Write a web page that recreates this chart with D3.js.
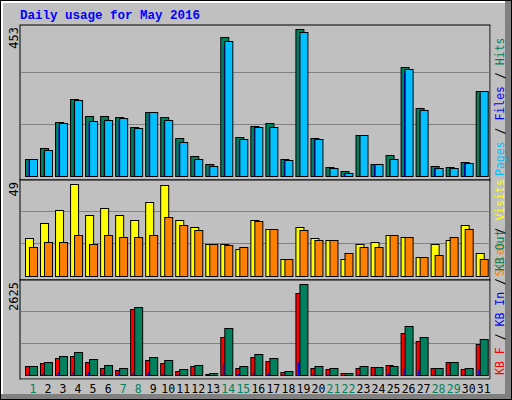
<!DOCTYPE html>
<html><head><meta charset="utf-8">
<script src="https://cdn.jsdelivr.net/npm/d3@7"></script>
<style>body{margin:0;background:#fff}</style>
</head><body><div id="chart"></div>
<script>
const days = d3.range(1, 32);
const weekend = [1, 7, 8, 14, 15, 21, 22, 28, 29];
const hits  = [53,87,167,236,186,186,183,152,198,183,118,63,38,428,121,155,164,53,453,118,29,14,127,38,66,336,210,32,29,44,262];
const pages = [53,81,164,233,170,173,179,149,198,173,106,53,32,416,115,152,152,50,444,115,26,10,127,38,53,330,204,26,26,41,262];
const files = [50,78,158,226,165,168,174,145,192,168,102,50,30,405,111,147,147,48,432,111,24,9,123,36,51,321,198,24,24,39,255];
const visits = [20,28,35,49,32.5,36,32.5,30,39.4,48.5,30,26,17,17,14.4,30,25,9,26,20,19,9,17,18,22,21,10,17,19,27,12];
const sites  = [15.4,18,18,22,17,22,21,21,22,31.4,27,24.5,17,16.5,15.4,29.3,25,9,24.5,19,19,12.2,15.4,15.4,22,21,10,11,21,25,9];
const kbF   = [268,355,498,556,383,211,153,1907,441,355,125,268,38,1102,211,527,412,96,2367,211,182,67,211,240,297,1217,987,211,383,182,901];
const kbIn  = [40,60,90,100,80,60,50,90,80,70,30,40,10,326,50,90,70,20,383,50,30,10,40,30,50,211,153,30,40,30,182];
const kbOut = [268,383,556,671,470,297,211,1964,527,441,182,297,67,1361,268,613,498,125,2625,268,211,67,268,240,268,1419,1102,211,383,211,1044];

const svg = d3.select('#chart').append('svg').attr('width', 512).attr('height', 400);
const mono = 'DejaVu Sans Mono, Liberation Mono, monospace';

// frame
svg.append('rect').attr('width', 512).attr('height', 400).attr('fill', '#000');
svg.append('rect').attr('x', 1).attr('y', 1).attr('width', 510).attr('height', 398).attr('fill', '#808080');
svg.append('rect').attr('x', 1).attr('y', 1).attr('width', 504).attr('height', 393).attr('fill', '#fff');
svg.append('rect').attr('x', 3).attr('y', 3).attr('width', 502).attr('height', 391).attr('fill', '#c0c0c0');

svg.append('text').attr('x', 20).attr('y', 19).text('Daily usage for May 2016')
	.attr('font-family', 'Liberation Mono, monospace').attr('font-weight', 'bold')
	.attr('font-size', 12.5).attr('fill', '#0000ff');

const x = d3.scaleLinear().domain([1, 31]).range([25, 475.7]);

const addPanel = (top, bottom, max, label, series, legend) => {
	const base = bottom - 4;
	const y = d3.scaleLinear().domain([0, max]).range([base, base - (base - top - 4)]);
	svg.append('rect').attr('x', 21).attr('y', top + 1).attr('width', 470).attr('height', bottom - top)
		.attr('fill', '#fff');
	svg.append('rect').attr('x', 20).attr('y', top).attr('width', 470).attr('height', bottom - top)
		.attr('fill', '#c0c0c0').attr('stroke', '#000').attr('stroke-width', 1);
	[1 / 3, 2 / 3].forEach(f => {
		const gy = Math.round(base - (base - top - 4) * f * 1.06) + 0.5;
		svg.append('line').attr('x1', 21).attr('x2', 490).attr('y1', gy).attr('y2', gy)
			.attr('stroke', '#808080');
	});
	svg.append('text').attr('transform', `translate(18,${top + 2}) rotate(-90)`)
		.attr('text-anchor', 'end').attr('font-family', mono).attr('font-size', 12).text(label);
	series.forEach(s => {
		svg.append('g').selectAll('rect').data(s.data).join('rect')
			.attr('x', (d, i) => x(days[i]) + s.dx + 0.5)
			.attr('y', d => Math.round(y(d)) + 0.5)
			.attr('width', s.w)
			.attr('height', d => Math.max(0, base - Math.round(y(d))))
			.attr('fill', s.color)
			.attr('stroke', s.stroke ? '#000' : 'none');
	});
	const t = svg.append('text').attr('transform', `translate(504,${bottom - 4}) rotate(-90)`)
		.attr('font-family', mono).attr('font-size', 11.5);
	legend.forEach((l, i) => {
		if (i > 0) t.append('tspan').attr('fill', '#000').text(' / ');
		t.append('tspan').attr('fill', l[1]).text(l[0]);
	});
};

addPanel(25, 180, 453, '453', [
	{ data: hits, dx: 0, w: 8, color: '#00805c', stroke: true },
	{ data: files, dx: 3, w: 8, color: '#0000ff', stroke: false },
	{ data: pages, dx: 4, w: 8, color: '#00c0ff', stroke: true }
], [['Pages', '#00c0ff'], ['Files', '#0000ff'], ['Hits', '#00805c']]);

addPanel(180, 280, 49, '49', [
	{ data: visits, dx: 0, w: 8, color: '#ffff00', stroke: true },
	{ data: sites, dx: 4, w: 8, color: '#ff8000', stroke: true }
], [['Visits', '#ffff00'], ['Sites', '#ff8000']].reverse());

addPanel(280, 379, 2625, '2625', [
	{ data: kbF, dx: 0, w: 7, color: '#ff0000', stroke: true },
	{ data: kbOut, dx: 4, w: 8, color: '#00805c', stroke: true },
	{ data: kbIn, dx: 2, w: 1.5, color: '#0000ff', stroke: false }
], [['KB F', '#ff0000'], ['KB In', '#0000ff'], ['KB Out', '#00805c']]);

// right legend for panel 2 has "Out Sites" prefix continuing from panel 3 label in original
svg.append('g').selectAll('text').data(days).join('text')
	.attr('x', d => x(d) + 8).attr('y', 393)
	.attr('text-anchor', 'middle').attr('font-family', mono).attr('font-size', 11.5)
	.attr('fill', d => weekend.includes(d) ? '#00805c' : '#000')
	.text(d => d);
</script></body></html>
